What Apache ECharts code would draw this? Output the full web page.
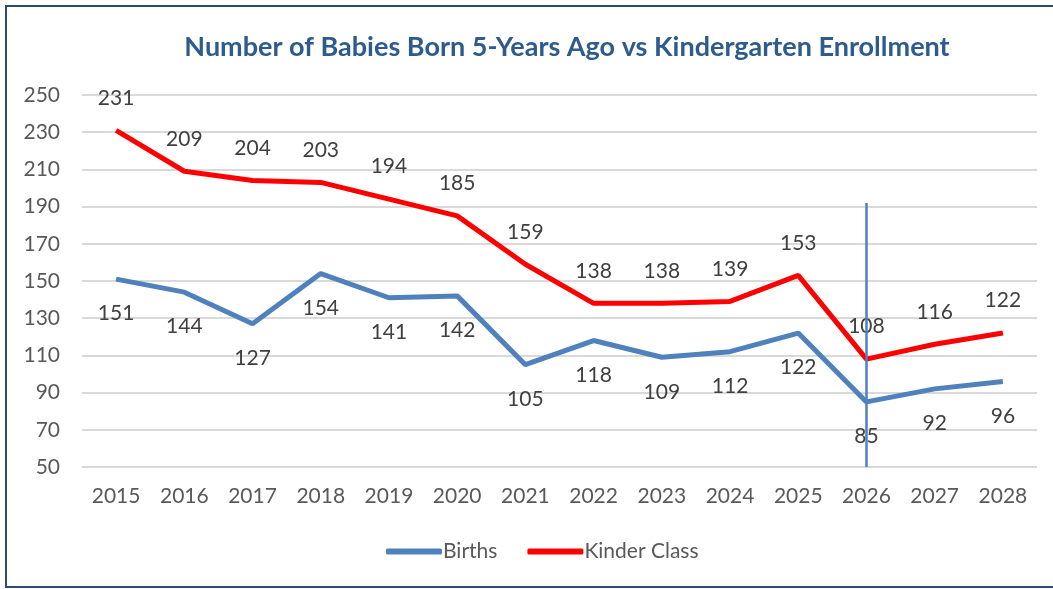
<!DOCTYPE html>
<html>
<head>
<meta charset="utf-8">
<script src="https://cdn.jsdelivr.net/npm/echarts@6/dist/echarts.min.js"></script>
<style>
  html, body { margin: 0; padding: 0; background: #fff; overflow: hidden; }
  #frame { position: absolute; left: 5px; top: 5px; width: 1060px; height: 579px; border: 2px solid #2c4a72; }
  #chart { position: absolute; left: 0; top: 0; width: 1053px; height: 589px; }
</style>
</head>
<body>
<div id="frame"></div>
<div id="chart"></div>
<script>
// chart data
const years = ['2015', '2016', '2017', '2018', '2019', '2020', '2021', '2022', '2023', '2024', '2025', '2026', '2027', '2028'];
const births = [151, 144, 127, 154, 141, 142, 105, 118, 109, 112, 122, 85, 92, 96];
const kinder = [231, 209, 204, 203, 194, 185, 159, 138, 138, 139, 153, 108, 116, 122];
const markerYear = '2026';
const markerRange = [192, 50];

const font = 'Lato, "Open Sans", sans-serif';

let myChart = echarts.init(document.getElementById('chart'));
myChart.setOption({
  title: {
    text: 'Number of Babies Born 5-Years Ago vs Kindergarten Enrollment',
    left: 562,
    textAlign: 'center',
    top: 29,
    textStyle: { fontFamily: font, fontWeight: 'bold', fontSize: 27, color: '#2e5b8e' }
  },
  legend: {
    bottom: 22,
    left: 381,
    itemWidth: 56,
    itemHeight: 6,
    itemGap: 30,
    icon: 'roundRect',
    textStyle: { fontFamily: font, fontSize: 21, color: '#595959', padding: [0, 0, 0, -4] },
    data: ['Births', 'Kinder Class']
  },
  grid: { left: 82, right: 16, top: 95, bottom: 122, containLabel: false },
  xAxis: {
    type: 'category',
    data: years,
    boundaryGap: true,
    axisLine: { show: false },
    axisTick: { show: false },
    axisLabel: { fontFamily: font, fontSize: 21, color: '#595959', margin: 19 }
  },
  yAxis: {
    type: 'value',
    min: 50,
    max: 250,
    interval: 20,
    axisLine: { show: false },
    axisTick: { show: false },
    splitLine: { lineStyle: { color: '#d9d9d9', width: 2 } },
    axisLabel: { fontFamily: font, fontSize: 21, color: '#595959', margin: 22 }
  },
  series: [
    {
      name: 'Births',
      type: 'line',
      data: births,
      symbol: 'circle',
      symbolSize: 0,
      showSymbol: true,
      lineStyle: { color: '#4f81bd', width: 5 },
      itemStyle: { color: '#4f81bd' },
      label: { show: true, position: 'bottom', distance: 24, fontFamily: font, fontSize: 21, color: '#404040' },
      labelLayout: { hideOverlap: false },
      markLine: {
        silent: true,
        symbol: 'none',
        label: { show: false },
        lineStyle: { color: '#4f81bd', width: 2.5, type: 'solid' },
        data: [[{ coord: [markerYear, markerRange[0]] }, { coord: [markerYear, markerRange[1]] }]]
      }
    },
    {
      name: 'Kinder Class',
      type: 'line',
      data: kinder,
      symbol: 'circle',
      symbolSize: 0,
      showSymbol: true,
      lineStyle: { color: '#ff0000', width: 5 },
      itemStyle: { color: '#ff0000' },
      label: { show: true, position: 'top', distance: 22, fontFamily: font, fontSize: 21, color: '#404040' },
      labelLayout: { hideOverlap: false }
    }
  ]
});
</script>
</body>
</html>
